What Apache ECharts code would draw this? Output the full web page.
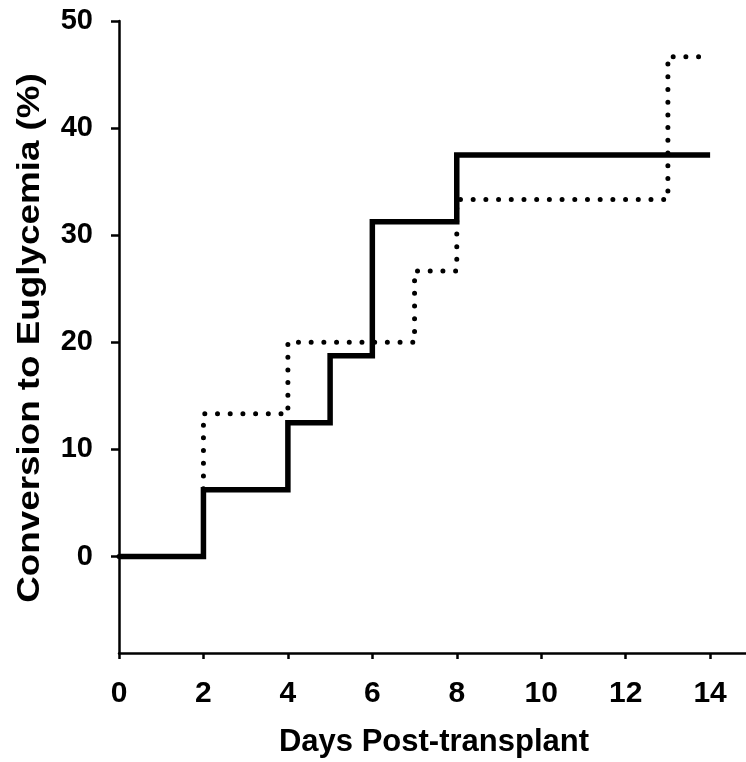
<!DOCTYPE html>
<html>
<head>
<meta charset="utf-8">
<script src="https://cdn.jsdelivr.net/npm/echarts@6/dist/echarts.min.js"></script>
<style>html,body{margin:0;padding:0;background:#fff}#c{width:746px;height:762px}</style>
</head>
<body>
<div id="c"></div>
<script>
// Kaplan-Meier style step data (day, % converted)
const solidDays = [0, 2, 4, 5, 6, 8, 14];
const solidPct = [0, 6.25, 12.5, 18.75, 31.25, 37.5, 37.5];
const dottedDays = [0, 2, 4, 7, 8, 13, 14];
const dottedPct = [0, 13.33, 20, 26.67, 33.33, 46.67, 46.67];
const xTicks = [0, 2, 4, 6, 8, 10, 12, 14];
const yTicks = [0, 10, 20, 30, 40, 50];
const xTitle = 'Days Post-transplant';
const yTitle = 'Conversion to Euglycemia (%)';

const FONT = 'Liberation Sans, Arial, sans-serif';
const zip = (a, b) => a.map((v, i) => [v, b[i]]);

const chart = echarts.init(document.getElementById('c'), null, {renderer: 'canvas'});
chart.setOption({
  animation: false,
  backgroundColor: '#fff',
  grid: {left: 119, top: 21, right: 0, bottom: 109, containLabel: false},
  graphic: [
    {
      type: 'text', x: 30, y: 338, rotation: Math.PI / 2, scaleX: 1.15, scaleY: 1,
      style: {text: yTitle, font: 'bold 32px ' + FONT, fill: '#000',
              align: 'center', verticalAlign: 'middle', textAlign: 'center', textVerticalAlign: 'middle'}
    },
    {
      type: 'text', x: 434, y: 742,
      style: {text: xTitle, font: 'bold 31px ' + FONT, fill: '#000',
              align: 'center', verticalAlign: 'middle', textAlign: 'center', textVerticalAlign: 'middle'}
    }
  ],
  xAxis: {
    type: 'value', min: 0, max: 14.85,
    axisLine: {onZero: false, lineStyle: {color: '#000', width: 2.5}},
    axisTick: {show: true, length: 6, inside: false, customValues: xTicks, lineStyle: {color: '#000', width: 2.5}},
    axisLabel: {customValues: xTicks, margin: 26, fontFamily: FONT, fontWeight: 'bold', fontSize: 30, color: '#000'},
    splitLine: {show: false}
  },
  yAxis: {
    type: 'value', min: -9, max: 50,
    axisLine: {onZero: false, lineStyle: {color: '#000', width: 2.5}},
    axisTick: {show: true, length: 8, inside: false, customValues: yTicks, lineStyle: {color: '#000', width: 2.5}},
    axisLabel: {customValues: yTicks, margin: 26, fontFamily: FONT, fontWeight: 'bold', fontSize: 29, color: '#000'},
    splitLine: {show: false}
  },
  series: [
    {
      type: 'line', step: 'end', data: zip(dottedDays, dottedPct),
      symbol: 'none', z: 2,
      lineStyle: {color: '#000', width: 5, type: [0, 12.7], cap: 'round'}
    },
    {
      type: 'line', step: 'end', data: zip(solidDays, solidPct),
      symbol: 'none', z: 3,
      lineStyle: {color: '#000', width: 5.5, cap: 'butt', join: 'miter'}
    }
  ]
});
</script>
</body>
</html>
